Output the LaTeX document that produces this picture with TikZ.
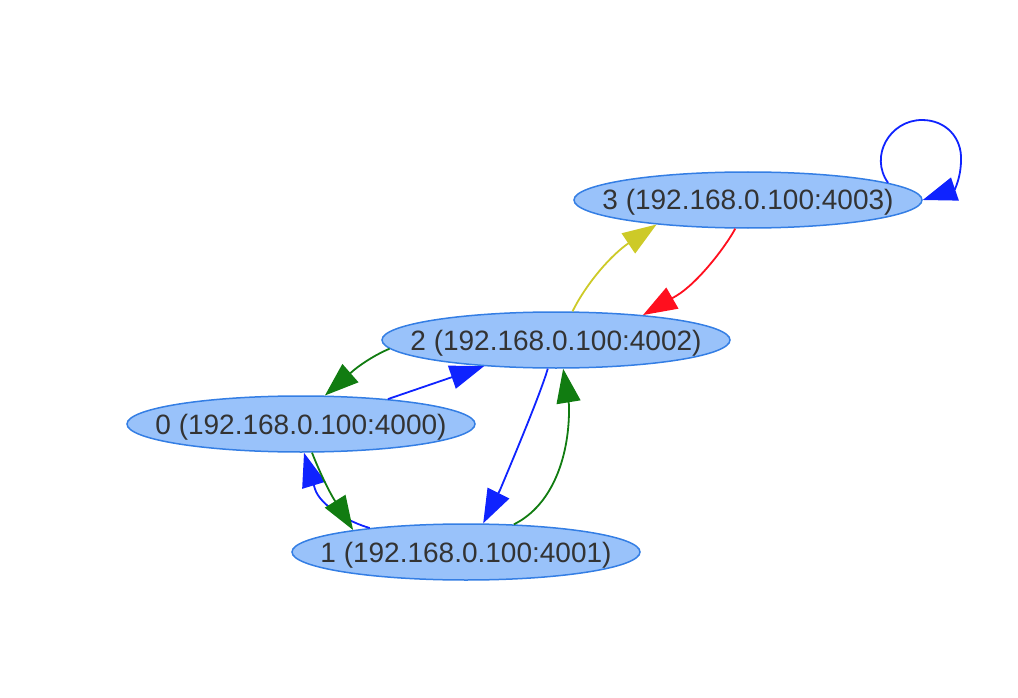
\documentclass[tikz,border=0pt]{standalone}
\usepackage{fontspec}
\setmainfont{Liberation Sans}
\usetikzlibrary{shapes.geometric,arrows.meta}
\definecolor{nodefill}{RGB}{153,194,250}
\definecolor{nodeline}{RGB}{52,126,228}
\definecolor{labeltext}{RGB}{51,51,51}
\definecolor{eblue}{RGB}{15,35,255}
\definecolor{egreen}{RGB}{17,124,17}
\definecolor{eyellow}{RGB}{205,202,40}
\definecolor{ered}{RGB}{255,15,30}
\begin{document}
\begin{tikzpicture}[x=1pt,y=-1pt,
  host/.style={ellipse, draw=nodeline, fill=nodefill, line width=1.5pt,
    minimum width=348pt, minimum height=56pt, inner sep=0pt,
    text height=20pt, text depth=0pt, text=labeltext,
    font=\fontsize{28}{32}\selectfont},
  link/.style={line width=1.8pt, -{Triangle[length=34pt,width=24pt]}}]
\useasboundingbox (0,0) rectangle (1018,698);

% hosts
\node[host] (n3) at (748,200) {\makebox[0pt]{3 (192.168.0.100:4003)}};
\node[host] (n2) at (556,340) {\makebox[0pt]{2 (192.168.0.100:4002)}};
\node[host] (n0) at (301,424) {\makebox[0pt]{0 (192.168.0.100:4000)}};
\node[host] (n1) at (466,552) {\makebox[0pt]{1 (192.168.0.100:4001)}};

% links: each curve runs to the base of its tip, then a short straight
% piece carries the tip onto the target's border
\draw[link, eblue] (n3.7) .. controls (869,156) and (890,120) .. (922,120)
  .. controls (946,120) and (962,138) .. (961,160)
  .. controls (961,172) and (958,182) .. (955,189) -- (n3.east);
\draw[link, eyellow] (n2.60) .. controls (584,288) and (606,260) .. (626,245) -- (n3.195);
\draw[link, ered] (n3.246) .. controls (726,246) and (698,283) .. (676,296) -- (n2.16);
\draw[link, egreen] (n2.183) .. controls (377,354) and (364,362) .. (354,370) -- (n0.50);
\draw[link, eblue] (n0.16) -- (n2.200);
\draw[link, eblue] (n2.254) .. controls (541,392) and (516,452) .. (500,490) -- (n1.59);
\draw[link, egreen] (n1.30) .. controls (553,505) and (570,455) .. (569,405) -- (n2.284);
\draw[link, eblue] (n1.166) .. controls (348,522) and (320,505) .. (315,489) -- (n0.276);
\draw[link, egreen] (n0.291) .. controls (318,468) and (327,488) .. (335,501) -- (n1.169);
\end{tikzpicture}
\end{document}
